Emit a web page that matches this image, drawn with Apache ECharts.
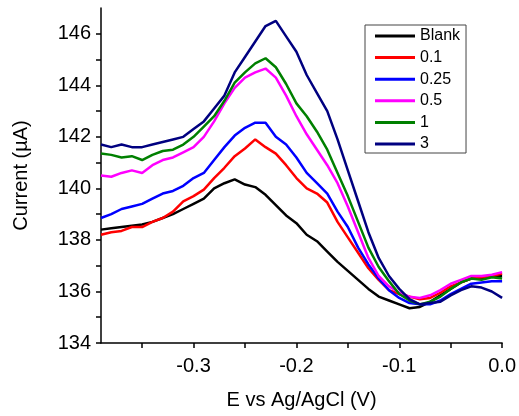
<!DOCTYPE html>
<html>
<head>
<meta charset="utf-8">
<script src="https://cdn.jsdelivr.net/npm/echarts@6/dist/echarts.min.js"></script>
<style>
html,body{margin:0;padding:0;background:#fff;}
#chart{width:519px;height:416px;}
</style>
</head>
<body>
<div id="chart"></div>
<script>
var potentials = [-0.39,-0.38,-0.37,-0.36,-0.35,-0.34,-0.33,-0.32,-0.31,-0.30,-0.29,-0.28,-0.27,-0.26,-0.25,-0.24,-0.23,-0.22,-0.21,-0.20,-0.19,-0.18,-0.17,-0.16,-0.15,-0.14,-0.13,-0.12,-0.11,-0.10,-0.09,-0.08,-0.07,-0.06,-0.05,-0.04,-0.03,-0.02,-0.01,0.00];

var seriesNames = ['Blank','0.1','0.25','0.5','1','3'];

var blank = [138.4,138.45,138.5,138.55,138.6,138.7,138.85,139.0,139.2,139.4,139.6,140.0,140.2,140.35,140.15,140.05,139.75,139.35,138.95,138.65,138.2,137.95,137.55,137.15,136.8,136.45,136.1,135.8,135.65,135.5,135.35,135.4,135.6,135.85,136.1,136.35,136.5,136.5,136.6,136.6];
var c01 = [138.2,138.3,138.35,138.5,138.5,138.7,138.85,139.1,139.5,139.7,139.95,140.4,140.8,141.25,141.55,141.9,141.6,141.35,140.9,140.4,140.0,139.8,139.45,138.7,138.1,137.5,136.9,136.45,136.05,135.9,135.8,135.7,135.75,135.95,136.2,136.35,136.5,136.55,136.6,136.7];
var c025 = [138.85,139.0,139.2,139.3,139.4,139.6,139.8,139.9,140.1,140.4,140.6,141.1,141.6,142.05,142.35,142.55,142.55,142.0,141.7,141.2,140.6,140.2,139.8,139.1,138.5,137.7,137.05,136.5,136.05,135.75,135.55,135.5,135.5,135.65,135.9,136.1,136.3,136.35,136.4,136.4];
var c05 = [140.5,140.45,140.6,140.7,140.6,140.9,141.1,141.2,141.4,141.6,142.0,142.6,143.3,143.9,144.3,144.5,144.65,144.3,143.6,142.8,142.1,141.5,140.9,140.2,139.3,138.3,137.3,136.6,136.2,135.95,135.8,135.75,135.85,136.05,136.3,136.45,136.6,136.6,136.65,136.75];
var c1 = [141.35,141.3,141.2,141.25,141.1,141.3,141.45,141.5,141.7,142.0,142.4,142.8,143.4,144.1,144.5,144.85,145.05,144.7,144.05,143.3,142.8,142.2,141.5,140.6,139.7,138.7,137.7,136.95,136.4,135.9,135.65,135.5,135.6,135.8,136.1,136.35,136.5,136.45,136.55,136.5];
var c3 = [141.7,141.6,141.7,141.6,141.6,141.7,141.8,141.9,142.0,142.3,142.6,143.1,143.6,144.5,145.1,145.7,146.3,146.5,145.9,145.3,144.4,143.7,143.0,141.9,140.7,139.5,138.3,137.3,136.6,136.1,135.7,135.5,135.55,135.6,135.85,136.05,136.2,136.15,136.0,135.75];

var xLabelValues = [-0.3,-0.2,-0.1,0];
var xTickValues = [-0.35,-0.3,-0.25,-0.2,-0.15,-0.1,-0.05,0];
var yLabelValues = [134,136,138,140,142,144,146];
var yTickValues = [134,135,136,137,138,139,140,141,142,143,144,145,146];

var colors = ['#000000','#ff0000','#0000ff','#ff00ff','#008000','#000080'];
var allValues = [blank,c01,c025,c05,c1,c3];

function pairs(ys){ return potentials.map(function(x,i){return [x, ys[i]];}); }

var FONT = 'Liberation Sans, Arial, sans-serif';
var chart = echarts.init(document.getElementById('chart'), null, {renderer:'canvas'});
chart.setOption({
  animation:false,
  backgroundColor:'#ffffff',
  grid:{left:101,right:16,top:8,bottom:73,containLabel:false},
  legend:{
    orient:'vertical', left:365, top:25,
    itemWidth:40, itemHeight:16, itemGap:5.6,
    padding:[3,6,1,10],
    borderColor:'#444', borderWidth:1,
    icon:'path://M0,0H40V3H0Z',
    textStyle:{fontFamily:FONT,fontSize:16,color:'#000'},
    data:seriesNames
  },
  xAxis:{
    type:'value', min:-0.39, max:0,
    name:'E vs Ag/AgCl (V)', nameLocation:'middle', nameGap:47,
    nameTextStyle:{fontFamily:FONT,fontSize:20,color:'#000'},
    axisLine:{show:true,onZero:false,lineStyle:{color:'#000',width:1.5}},
    axisTick:{show:true,inside:false,length:5,customValues:xTickValues,lineStyle:{color:'#000',width:1.5}},
    axisLabel:{customValues:xLabelValues,margin:13,fontFamily:FONT,fontSize:20,color:'#000',
      formatter:function(v){return (Math.abs(v)<1e-9?0:v).toFixed(1);}},
    splitLine:{show:false}
  },
  yAxis:{
    type:'value', min:134, max:147,
    name:'Current (\u00b5A)', nameLocation:'middle', nameGap:70, nameRotate:90,
    nameTextStyle:{fontFamily:FONT,fontSize:20,color:'#000'},
    axisLine:{show:true,onZero:false,lineStyle:{color:'#000',width:1.5}},
    axisTick:{show:true,inside:false,length:5,customValues:yTickValues,lineStyle:{color:'#000',width:1.5}},
    axisLabel:{customValues:yLabelValues,margin:10,fontFamily:FONT,fontSize:20,color:'#000'},
    splitLine:{show:false}
  },
  series: seriesNames.map(function(n,i){
    return {name:n,type:'line',data:pairs(allValues[i]),symbol:'none',
      lineStyle:{color:colors[i],width:2.5},itemStyle:{color:colors[i]}};
  })
});
</script>
</body>
</html>
